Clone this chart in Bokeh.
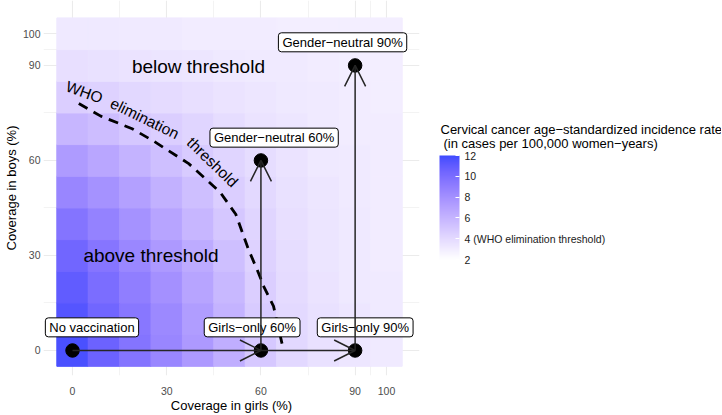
import numpy as np
from bokeh.plotting import figure
from bokeh.layouts import row
from bokeh.models import (ColumnDataSource, LinearColorMapper, ColorBar, FixedTicker,
                          Arrow, OpenHead, Label, Range1d)
from bokeh.transform import transform
from bokeh.core.properties import value
from bokeh.embed import file_html
from bokeh.resources import INLINE

# ---------------- data ----------------
girls_cov = [0, 10, 20, 30, 40, 50, 60, 70, 80, 90, 100]
boys_cov = [0, 10, 20, 30, 40, 50, 60, 70, 80, 90, 100]
# incidence per 100,000 women-years; one row per boys coverage, one column per girls coverage
inc_b0 = [11.7, 10.6, 9.6, 8.6, 7.5, 6.3, 4.9, 4.1, 3.6, 3.3, 3.1]
inc_b10 = [11.4, 10.4, 9.4, 8.4, 7.3, 6.1, 4.8, 4.0, 3.6, 3.3, 3.1]
inc_b20 = [11.0, 10.0, 9.0, 8.0, 6.9, 5.8, 4.6, 3.9, 3.5, 3.2, 3.1]
inc_b30 = [10.4, 9.5, 8.5, 7.5, 6.5, 5.4, 4.4, 3.8, 3.4, 3.2, 3.0]
inc_b40 = [9.6, 8.8, 7.9, 6.9, 5.9, 5.0, 4.2, 3.7, 3.4, 3.2, 3.0]
inc_b50 = [8.6, 7.9, 7.1, 6.2, 5.4, 4.6, 4.0, 3.6, 3.3, 3.1, 3.0]
inc_b60 = [7.4, 6.8, 6.1, 5.4, 4.8, 4.2, 3.8, 3.5, 3.2, 3.1, 3.0]
inc_b70 = [5.9, 5.5, 5.0, 4.6, 4.2, 3.8, 3.5, 3.3, 3.1, 3.0, 3.0]
inc_b80 = [4.6, 4.4, 4.1, 3.9, 3.7, 3.5, 3.3, 3.2, 3.1, 3.0, 2.9]
inc_b90 = [3.7, 3.6, 3.5, 3.4, 3.3, 3.2, 3.1, 3.1, 3.0, 2.9, 2.9]
inc_b100 = [3.2, 3.2, 3.1, 3.1, 3.0, 3.0, 3.0, 2.9, 2.9, 2.9, 2.9]
incidence_rows = [inc_b0, inc_b10, inc_b20, inc_b30, inc_b40, inc_b50,
                  inc_b60, inc_b70, inc_b80, inc_b90, inc_b100]

# WHO elimination threshold contour (4 per 100,000)
thr_girls = [2, 9, 19, 26, 37, 47, 52, 56, 59, 61, 64, 67]
thr_boys = [78, 74, 70, 66, 59, 50, 43, 32, 25, 20, 14, 1]

scenario_names = ["No vaccination", "Girls\u2212only 60%", "Girls\u2212only 90%",
                  "Gender\u2212neutral 60%", "Gender\u2212neutral 90%"]
scenario_girls = [0, 60, 90, 60, 90]
scenario_boys = [0, 0, 0, 60, 90]

arrow_from_girls = [0, 60, 60, 90]
arrow_from_boys = [0, 0, 0, 0]
arrow_to_girls = [60, 90, 60, 90]
arrow_to_boys = [0, 0, 60, 90]

axis_ticks = [0, 30, 60, 90, 100]
axis_minor = [15, 45, 75, 95]
legend_ticks = [2, 4, 6, 8, 10, 12]
legend_title_1 = "Cervical cancer age\u2212standardized incidence rate"
legend_title_2 = "(in cases per 100,000 women\u2212years)"

# ---------------- colours ----------------
def hex_to_lab(h):
    r, g, b = [int(h[i:i + 2], 16) / 255 for i in (1, 3, 5)]
    def lin(c):
        return c / 12.92 if c <= 0.04045 else ((c + 0.055) / 1.055) ** 2.4
    r, g, b = lin(r), lin(g), lin(b)
    X = 0.4124 * r + 0.3576 * g + 0.1805 * b
    Y = 0.2126 * r + 0.7152 * g + 0.0722 * b
    Z = 0.0193 * r + 0.1192 * g + 0.9505 * b
    def f(t):
        return t ** (1 / 3) if t > 0.008856 else 7.787 * t + 16 / 116
    fx, fy, fz = f(X / 0.95047), f(Y / 1.0), f(Z / 1.08883)
    return 116 * fy - 16, 500 * (fx - fy), 200 * (fy - fz)

def lab_to_hex(L, a, b):
    fy = (L + 16) / 116
    fx = fy + a / 500
    fz = fy - b / 200
    def finv(t):
        return t ** 3 if t ** 3 > 0.008856 else (t - 16 / 116) / 7.787
    X, Y, Z = 0.95047 * finv(fx), finv(fy), 1.08883 * finv(fz)
    r = 3.2406 * X - 1.5372 * Y - 0.4986 * Z
    g = -0.9689 * X + 1.8758 * Y + 0.0415 * Z
    bb = 0.0557 * X - 0.2040 * Y + 1.0570 * Z
    def gam(c):
        c = max(0.0, min(1.0, c))
        return 12.92 * c if c <= 0.0031308 else 1.055 * c ** (1 / 2.4) - 0.055
    return "#%02x%02x%02x" % tuple(int(round(gam(c) * 255)) for c in (r, g, bb))

low_lab = hex_to_lab("#FFFFFF")
high_lab = hex_to_lab("#3E4BFF")
palette = []
for k in range(256):
    t = k / 255
    palette.append(lab_to_hex(*[lo + (hi - lo) * t for lo, hi in zip(low_lab, high_lab)]))

mapper = LinearColorMapper(palette=palette, low=2, high=12)

# ---------------- main figure ----------------
FONT = "Liberation Sans"
p = figure(width=420, height=415, output_backend="svg", toolbar_location=None,
           x_range=(-9.24, 110.5), y_range=(-7.9, 110.5),
           min_border_left=43, min_border_right=1, min_border_top=0, min_border_bottom=40)
p.outline_line_color = None
p.background_fill_color = "white"

for ax in (p.xaxis[0], p.yaxis[0]):
    ax.ticker = FixedTicker(ticks=axis_ticks, minor_ticks=axis_minor)
    ax.axis_line_color = None
    ax.major_tick_line_color = None
    ax.minor_tick_line_color = None
    ax.major_tick_out = 0
    ax.major_tick_in = 0
    ax.minor_tick_out = 0
    ax.minor_tick_in = 0
    ax.major_label_text_font = FONT
    ax.major_label_text_font_size = "10.5px"
    ax.major_label_text_color = "#4d4d4d"
    ax.axis_label_text_font = FONT
    ax.axis_label_text_font_size = "13px"
    ax.axis_label_text_font_style = "normal"
    ax.axis_label_text_color = "black"
p.xaxis.axis_label = "Coverage in girls (%)"
p.yaxis.axis_label = "Coverage in boys (%)"
p.xaxis.major_label_standoff = 11
p.xaxis.axis_label_standoff = 0
p.yaxis.major_label_standoff = 3
p.yaxis.axis_label_standoff = 1

for g in (p.xgrid[0], p.ygrid[0]):
    g.grid_line_color = "#ebebeb"
    g.grid_line_width = 1.1
    g.minor_grid_line_color = "#ebebeb"
    g.minor_grid_line_width = 0.6

# heatmap tiles
hx, hy, hv = [], [], []
for bi, row_vals in enumerate(incidence_rows):
    for gi, v in enumerate(row_vals):
        hx.append(girls_cov[gi])
        hy.append(boys_cov[bi])
        hv.append(v)
heat = ColumnDataSource(dict(x=hx, y=hy, v=hv))
p.rect(x="x", y="y", width=10, height=10, source=heat,
       fill_color=transform("v", mapper), line_color=transform("v", mapper), line_width=1)

# threshold contour
p.line(thr_girls, thr_boys, line_color="black", line_width=2.8, line_dash="10 7")

# curved label along the threshold (word by word)
p.text(x=[3.8, 23.0, 44.6], y=[81.6, 73.3, 59.5], text=["WHO", "elimination", "threshold"],
       angle=[-20, -26, -44], angle_units="deg",
       text_font=value(FONT), text_font_size=value("15.5px"), text_color="black",
       text_align="center", text_baseline="middle")

# region labels
p.text(x=[40.1, 25.0], y=[89.6, 30.0], text=["below threshold", "above threshold"],
       text_font=value(FONT), text_font_size=value("19px"), text_color="black",
       text_align="center", text_baseline="middle")

# arrows
for xs, ys, xe, ye in zip(arrow_from_girls, arrow_from_boys, arrow_to_girls, arrow_to_boys):
    p.add_layout(Arrow(x_start=xs, y_start=ys, x_end=xe, y_end=ye,
                       line_color="#262626", line_width=1.5,
                       end=OpenHead(size=21, line_color="#262626", line_width=1.5)))

# scenario points
p.scatter(scenario_girls, scenario_boys, size=13.5, color="black")

# scenario labels (offset from points)
label_dx = [6.2, -2.8, 3.2, 4.2, -4.0]
label_dy = [7.3, 7.3, 7.3, 7.2, 7.3]
lab_src = ColumnDataSource(dict(
    x=[g + d for g, d in zip(scenario_girls, label_dx)],
    y=[b + d for b, d in zip(scenario_boys, label_dy)],
    t=scenario_names))
p.text(x="x", y="y", text="t", source=lab_src,
       text_font=value(FONT), text_font_size=value("13px"), text_color="black",
       text_align="center", text_baseline="middle",
       background_fill_color="white", border_line_color="black", border_line_width=1,
       padding=dict(x=4, y=2), border_radius=3)

# ---------------- legend figure ----------------
lg = figure(width=301, height=415, output_backend="svg", toolbar_location=None,
            x_range=Range1d(0, 1), y_range=Range1d(0, 1),
            x_axis_location=None, y_axis_location=None,
            min_border_left=0, min_border_right=0, min_border_top=0, min_border_bottom=0)
lg.outline_line_color = None
lg.xgrid.visible = False
lg.ygrid.visible = False

cb = ColorBar(color_mapper=mapper, ticker=FixedTicker(ticks=legend_ticks),
              major_label_overrides={4: "4 (WHO elimination threshold)"},
              width=20, height=104,
              major_label_text_font=FONT, major_label_text_font_size="10.5px",
              major_label_text_color="#1a1a1a", label_standoff=5,
              major_tick_line_color="white", major_tick_in=4, major_tick_out=0,
              bar_line_color=None, border_line_color=None, background_fill_color=None,
              margin=0, padding=0, location=(19, 116))
lg.add_layout(cb, "center")

for txt, dx, dy in ((legend_title_1, 20, 246), (legend_title_2, 23, 232)):
    lg.add_layout(Label(x=dx, y=dy, x_units="screen", y_units="screen", text=txt,
                        text_font=FONT, text_font_size="13px", text_color="black",
                        text_align="left", text_baseline="middle"))

layout = row(p, lg, spacing=0)
open("out.html", "w").write(file_html(layout, INLINE))
